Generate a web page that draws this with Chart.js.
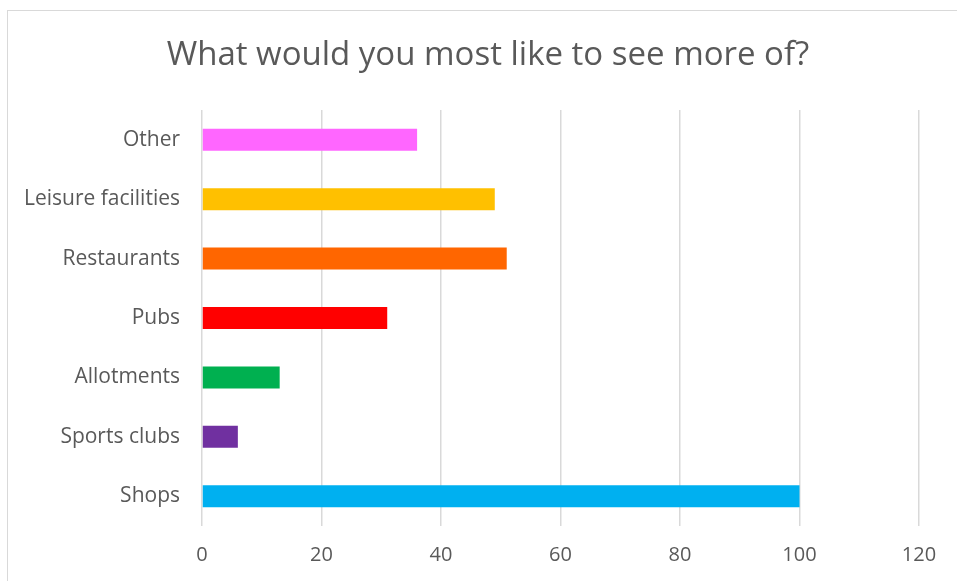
<!DOCTYPE html>
<html>
<head>
<meta charset="utf-8">
<script src="https://cdn.jsdelivr.net/npm/chart.js@4.4.0/dist/chart.umd.min.js"></script>
<style>
  html, body { margin: 0; padding: 0; background: #fff; }
  #wrap { position: relative; width: 957px; height: 581px; }
  #frame {
    position: absolute; left: 7px; top: 10px; width: 960px; height: 580px;
    border-left: 1.5px solid #d9d9d9; border-top: 1.5px solid #d9d9d9;
    pointer-events: none;
  }
</style>
</head>
<body>
<div id="wrap">
  <canvas id="chart" width="957" height="581"></canvas>
  <div id="frame"></div>
</div>
<script>
var categories = ["Other", "Leisure facilities", "Restaurants", "Pubs", "Allotments", "Sports clubs", "Shops"];
var values = [36, 49, 51, 31, 13, 6, 100];
var barColors = ["#FF66FF", "#FFC000", "#FF6600", "#FF0000", "#00B050", "#7030A0", "#00B0F0"];
var xTicks = [0, 20, 40, 60, 80, 100, 120];
var chartTitle = "What would you most like to see more of?";

var fontFamily = "'Open Sans', sans-serif";
var textColor = "#595959";

Chart.defaults.font.family = fontFamily;
Chart.defaults.color = textColor;

// title is centred on the whole frame, not on the chart box, so draw it by hand
var titlePlugin = {
  id: 'frameTitle',
  afterDraw: function(chart) {
    var ctx = chart.ctx;
    ctx.save();
    ctx.font = "33px " + fontFamily;
    ctx.fillStyle = textColor;
    ctx.textAlign = "center";
    ctx.textBaseline = "middle";
    ctx.fillText(chartTitle, 488, 56);
    ctx.restore();
  }
};

new Chart(document.getElementById("chart"), {
  type: 'bar',
  data: {
    labels: categories,
    datasets: [{
      data: values,
      backgroundColor: barColors,
      borderWidth: 0,
      categoryPercentage: 1,
      barPercentage: 0.37
    }]
  },
  options: {
    indexAxis: 'y',
    responsive: false,
    animation: false,
    layout: { padding: { left: 0, right: 38, top: 110, bottom: 0 } },
    plugins: {
      legend: { display: false },
      tooltip: { enabled: false },
      title: { display: false }
    },
    scales: {
      x: {
        min: 0,
        max: 120,
        afterBuildTicks: function(scale) {
          scale.ticks = xTicks.map(function(v) { return { value: v }; });
        },
        afterFit: function(scale) { scale.height = 55; },
        grid: { color: "#d9d9d9", lineWidth: 1.5, drawTicks: false },
        border: { display: false },
        ticks: { padding: 17, font: { size: 20 }, color: textColor }
      },
      y: {
        afterFit: function(scale) { scale.width = 202; },
        grid: { display: false, drawTicks: false },
        border: { display: false },
        ticks: { padding: 22, font: { size: 21 }, color: textColor }
      }
    }
  },
  plugins: [titlePlugin]
});
</script>
</body>
</html>
